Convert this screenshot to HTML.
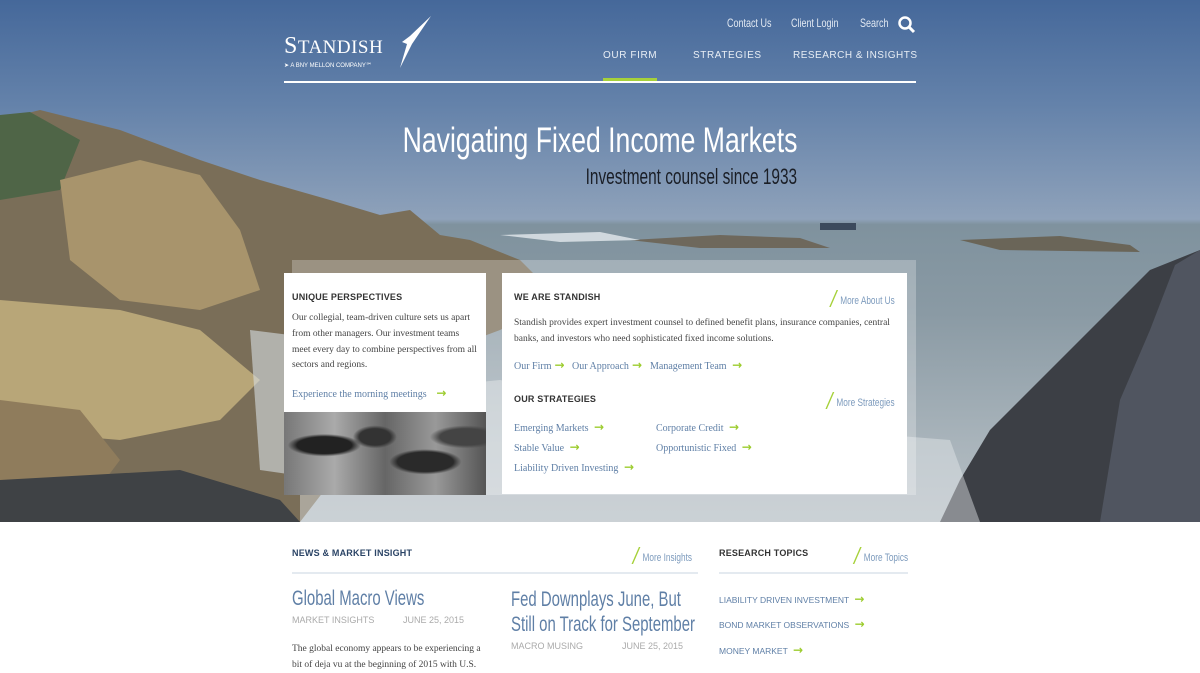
<!DOCTYPE html>
<html><head><meta charset="utf-8">
<style>
*{margin:0;padding:0;box-sizing:border-box}
body{width:1200px;height:670px;overflow:hidden;background:#fff;font-family:"Liberation Sans",sans-serif;position:relative}
.abs{position:absolute}
.sx{transform:scaleX(.75);transform-origin:left top;white-space:nowrap}
.sxr{transform:scaleX(.75);transform-origin:right top;white-space:nowrap}
.serif{font-family:"Liberation Serif",serif}
.link{color:#5f7fa6;font-family:"Liberation Serif",serif;font-size:10px;white-space:nowrap}
.arr{color:#9ccc2e;font-weight:bold;font-size:12px;margin-left:3px;font-family:"DejaVu Sans",sans-serif}
.h{font-size:9px;font-weight:bold;color:#333;letter-spacing:.2px}
.more{color:#7d9bbd;font-size:11px;white-space:nowrap}
.sl{display:inline-block;width:2px;height:17px;background:#a6d13a;transform:skewX(-30deg) translateY(3px);margin-right:6px}
</style></head><body>
<div class="abs" style="left:0;top:0;width:1200px;height:522px;overflow:hidden;background:linear-gradient(#45689a 0%,#6482aa 20%,#8fa2ba 42%,#7f929e 43%,#8a9aa4 60%,#a9b4bb 85%,#b6bec4 100%)">
<svg width="1200" height="522" style="position:absolute;left:0;top:0">
<path d="M0,120 L40,110 L120,130 L200,160 L260,180 L330,200 L380,215 L410,210 L440,235 L470,240 L520,260 L560,300 L500,330 L420,360 L380,420 L340,470 L300,522 L0,522Z" fill="#7a6e58"/>
<path d="M0,115 L30,112 L80,140 L60,190 L0,200Z" fill="#4f6547"/>
<path d="M60,180 L140,160 L200,175 L240,230 L260,290 L200,310 L120,300 L70,260Z" fill="#a8946c"/>
<path d="M0,300 L120,310 L200,330 L260,380 L220,420 L120,440 L0,430Z" fill="#b8a678"/>
<path d="M0,400 L80,410 L120,460 L90,500 L0,510Z" fill="#8f7c5c"/>
<path d="M0,480 L180,470 L280,500 L300,522 L0,522Z" fill="#3f4245"/>
<path d="M250,330 L330,340 L360,400 L330,480 L260,470Z" fill="#d6dde2" opacity=".6"/>
<path d="M1200,250 L1150,270 L1090,330 L1040,380 L990,430 L960,480 L940,522 L1200,522Z" fill="#3c3f45"/>
<path d="M1200,250 L1175,265 L1150,330 L1120,400 L1100,522 L1200,522Z" fill="#505560"/>
<path d="M630,240 L720,235 L800,238 L830,248 L700,248Z" fill="#6e685c"/>
<path d="M960,240 L1060,236 L1130,245 L1140,252 L1000,250Z" fill="#6a6558"/>
<path d="M500,235 L600,232 L640,240 L560,242Z" fill="#e4eaee" opacity=".8"/>
<path d="M300,400 L500,380 L700,420 L950,440 L980,522 L300,522Z" fill="#e4e9ec" opacity=".45"/>
<rect x="820" y="223" width="36" height="7" fill="#3c4a5c"/>
</svg>
</div>
<!-- header -->
<div class="abs serif" style="left:284px;top:33px;color:#fff">
<div style="font-size:24px;letter-spacing:.5px">S<span style="font-size:19px">TANDISH</span></div>
<div style="font-size:6px;margin-top:2px;font-family:'Liberation Sans',sans-serif">➤ A BNY MELLON COMPANY℠</div>
</div>
<svg class="abs" style="left:398px;top:14px" width="36" height="56"><path d="M33,2 L12,22 L4,28 L9,30 L2,54 L14,30 Z" fill="#fff"/></svg>
<div class="abs sx" style="left:727px;top:16px;color:#e2e9f2;font-size:12px">Contact Us</div>
<div class="abs sx" style="left:791px;top:16px;color:#e2e9f2;font-size:12px">Client Login</div>
<div class="abs sx" style="left:860px;top:16px;color:#e2e9f2;font-size:12px">Search</div>
<svg class="abs" style="left:897px;top:15px" width="20" height="20"><circle cx="8" cy="8" r="5.5" stroke="#fff" stroke-width="2.5" fill="none"/><line x1="12" y1="12" x2="17" y2="17" stroke="#fff" stroke-width="3"/></svg>
<div class="abs" style="left:603px;top:50px;color:#e8eef5;font-size:10px;letter-spacing:.6px">OUR FIRM</div>
<div class="abs" style="left:693px;top:50px;color:#e8eef5;font-size:10px;letter-spacing:.6px">STRATEGIES</div>
<div class="abs" style="left:793px;top:50px;color:#e8eef5;font-size:10px;letter-spacing:.5px">RESEARCH &amp; INSIGHTS</div>
<div class="abs" style="left:603px;top:78px;width:54px;height:3px;background:#a6d13a"></div>
<div class="abs" style="left:284px;top:81px;width:632px;height:2px;background:#fff"></div>
<div class="abs" style="right:403px;top:121px;color:#fff;font-size:35px;transform:scaleX(.76);transform-origin:right top;white-space:nowrap">Navigating Fixed Income Markets</div>
<div class="abs" style="right:403px;top:164px;color:#1a1e26;font-size:22px;transform:scaleX(.7);transform-origin:right top;white-space:nowrap">Investment counsel since 1933</div>
<!-- cards -->
<div class="abs" style="left:292px;top:260px;width:624px;height:235px;background:rgba(255,255,255,.25)"></div>
<div class="abs" style="left:284px;top:273px;width:202px;height:139px;background:#fff;padding:19px 8px">
<div class="h">UNIQUE PERSPECTIVES</div>
<div class="serif" style="font-size:9.5px;line-height:15.8px;color:#444;margin-top:9px">Our collegial, team-driven culture sets us apart from other managers. Our investment teams meet every day to combine perspectives from all sectors and regions.</div>
<div class="link" style="margin-top:12px">Experience the morning meetings <span class="arr">&nbsp;→</span></div>
</div>
<div class="abs" style="left:284px;top:412px;width:202px;height:83px;background:radial-gradient(ellipse at 20% 40%,#222 0 12%,transparent 16%),radial-gradient(ellipse at 45% 30%,#333 0 10%,transparent 14%),radial-gradient(ellipse at 70% 60%,#2a2a2a 0 14%,transparent 18%),radial-gradient(ellipse at 90% 30%,#444 0 10%,transparent 14%),linear-gradient(90deg,#777,#aaa,#666,#999,#555)"></div>
<div class="abs" style="left:502px;top:273px;width:405px;height:221px;background:#fff">
<div class="abs h" style="left:12px;top:19px">WE ARE STANDISH</div>
<div class="abs sxr more" style="right:12px;top:14px"><span class="sl"></span>More About Us</div>
<div class="abs serif" style="left:12px;top:42px;width:390px;font-size:9.5px;line-height:16px;color:#444">Standish provides expert investment counsel to defined benefit plans, insurance companies, central banks, and investors who need sophisticated fixed income solutions.</div>
<div class="abs link" style="left:12px;top:85px">Our Firm<span class="arr">→</span></div>
<div class="abs link" style="left:70px;top:85px">Our Approach<span class="arr">→</span></div>
<div class="abs link" style="left:148px;top:85px">Management Team <span class="arr">→</span></div>
<div class="abs h" style="left:12px;top:121px">OUR STRATEGIES</div>
<div class="abs sxr more" style="right:12px;top:116px"><span class="sl"></span>More Strategies</div>
<div class="abs link" style="left:12px;top:147px">Emerging Markets <span class="arr">→</span></div>
<div class="abs link" style="left:154px;top:147px">Corporate Credit <span class="arr">→</span></div>
<div class="abs link" style="left:12px;top:167px">Stable Value <span class="arr">→</span></div>
<div class="abs link" style="left:154px;top:167px">Opportunistic Fixed <span class="arr">→</span></div>
<div class="abs link" style="left:12px;top:187px">Liability Driven Investing <span class="arr">→</span></div>
</div>
<!-- bottom -->
<div class="abs h" style="left:292px;top:548px;color:#2b4466">NEWS &amp; MARKET INSIGHT</div>
<div class="abs sxr more" style="right:508px;top:544px"><span class="sl"></span>More Insights</div>
<div class="abs" style="left:292px;top:572px;width:406px;height:2px;background:#e4eaf0"></div>
<div class="abs h" style="left:719px;top:548px">RESEARCH TOPICS</div>
<div class="abs sxr more" style="right:292px;top:544px"><span class="sl"></span>More Topics</div>
<div class="abs" style="left:719px;top:572px;width:189px;height:2px;background:#e4eaf0"></div>
<div class="abs" style="left:292px;top:587px;color:#5f7fa6;font-size:21px;transform:scaleX(.71);transform-origin:left top;white-space:nowrap">Global Macro Views</div>
<div class="abs" style="left:292px;top:615px;color:#aaa;font-size:9px">MARKET INSIGHTS</div>
<div class="abs" style="left:403px;top:615px;color:#aaa;font-size:9px">JUNE 25, 2015</div>
<div class="abs serif" style="left:292px;top:641px;width:190px;color:#444;font-size:9.5px;line-height:16px">The global economy appears to be experiencing a bit of deja vu at the beginning of 2015 with U.S.</div>
<div class="abs" style="left:511px;top:587px;color:#5f7fa6;font-size:21px;line-height:25px;transform:scaleX(.71);transform-origin:left top;white-space:nowrap">Fed Downplays June, But<br>Still on Track for September</div>
<div class="abs" style="left:511px;top:641px;color:#aaa;font-size:9px">MACRO MUSING</div>
<div class="abs" style="left:622px;top:641px;color:#aaa;font-size:9px">JUNE 25, 2015</div>
<div class="abs" style="left:719px;top:592px;color:#5f7fa6;font-size:8.5px">LIABILITY DRIVEN INVESTMENT <span class="arr">→</span></div>
<div class="abs" style="left:719px;top:617px;color:#5f7fa6;font-size:8.5px">BOND MARKET OBSERVATIONS <span class="arr">→</span></div>
<div class="abs" style="left:719px;top:643px;color:#5f7fa6;font-size:8.5px">MONEY MARKET <span class="arr">→</span></div>
</body></html>
